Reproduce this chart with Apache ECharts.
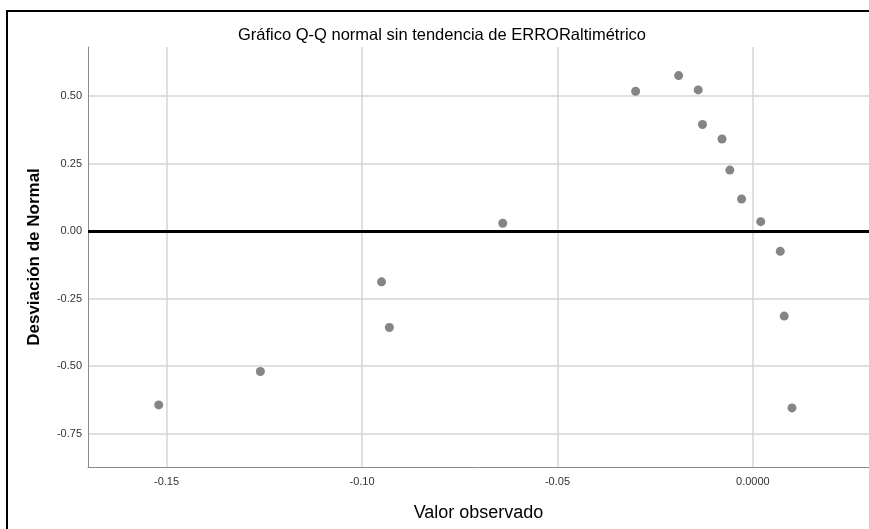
<!DOCTYPE html>
<html>
<head>
<meta charset="utf-8">
<script src="https://cdn.jsdelivr.net/npm/echarts@6/dist/echarts.min.js"></script>
<style>
  html, body { margin: 0; padding: 0; background: #fff; }
  #chart { width: 869px; height: 529px; }
</style>
</head>
<body>
<div id="chart"></div>
<script>
// valores observados (eje x) y desviacion de la normal (eje y)
var observedValues = [-0.152, -0.126, -0.095, -0.093, -0.064, -0.030, -0.019, -0.014, -0.0129, -0.0079, -0.0059, -0.0029, 0.002, 0.007, 0.008, 0.010];
var deviationValues = [-0.644, -0.520, -0.188, -0.357, 0.029, 0.518, 0.576, 0.523, 0.395, 0.341, 0.226, 0.119, 0.035, -0.075, -0.315, -0.655];
var xTicks = [-0.15, -0.10, -0.05, 0];
var yTicks = [-0.75, -0.50, -0.25, 0, 0.25, 0.50];

var font = 'Liberation Sans, Arial, sans-serif';
var points = [];
for (var i = 0; i < observedValues.length; i++) {
    points.push([observedValues[i], deviationValues[i]]);
}

var myChart = echarts.init(document.getElementById('chart'));
myChart.setOption({
    animation: false,
    backgroundColor: '#fff',
    title: {
        text: 'Gráfico Q-Q normal sin tendencia de ERRORaltimétrico',
        left: 437,
        textAlign: 'center',
        top: 22,
        textStyle: { fontFamily: font, fontSize: 16.5, fontWeight: 'normal', color: '#000' }
    },
    grid: { left: 88, right: 0, top: 47, bottom: 62 },
    xAxis: {
        type: 'value',
        min: -0.1701,
        max: 0.0297,
        name: 'Valor observado',
        nameLocation: 'middle',
        nameGap: 37,
        nameTextStyle: { fontFamily: font, fontSize: 18, color: '#000' },
        axisLine: { onZero: false, lineStyle: { color: '#8c8c8c', width: 1 } },
        axisTick: { show: false, customValues: xTicks },
        axisLabel: {
            customValues: xTicks,
            margin: 9,
            fontFamily: font, fontSize: 11, color: '#333',
            formatter: function (v) { return v === 0 ? '0.0000' : v.toFixed(2); }
        },
        splitLine: { show: true, lineStyle: { color: '#d6d6d6', width: 1.5 } }
    },
    yAxis: {
        type: 'value',
        min: -0.874,
        max: 0.682,
        name: 'Desviación de Normal',
        nameLocation: 'middle',
        nameGap: 45,
        nameTextStyle: { fontFamily: font, fontSize: 17, fontWeight: 'bold', color: '#000' },
        axisLine: { show: true, onZero: false, lineStyle: { color: '#8c8c8c', width: 1 } },
        axisTick: { show: false, customValues: yTicks },
        axisLabel: {
            customValues: yTicks,
            margin: 6,
            fontFamily: font, fontSize: 11, color: '#333',
            formatter: function (v) { return v.toFixed(2); }
        },
        splitLine: { show: true, lineStyle: { color: '#d6d6d6', width: 1.5 } }
    },
    graphic: [
        { type: 'line', shape: { x1: 7, y1: 11, x2: 869, y2: 11 }, style: { stroke: '#000', lineWidth: 2 } },
        { type: 'line', shape: { x1: 7, y1: 10, x2: 7, y2: 529 }, style: { stroke: '#000', lineWidth: 2 } }
    ],
    series: [{
        type: 'scatter',
        data: points,
        symbolSize: 9,
        itemStyle: { color: '#666' },
        markLine: {
            silent: true,
            symbol: ['none', 'none'],
            label: { show: false },
            lineStyle: { color: '#000', width: 3, type: 'solid' },
            data: [{ yAxis: 0 }]
        }
    }]
});
</script>
</body>
</html>
